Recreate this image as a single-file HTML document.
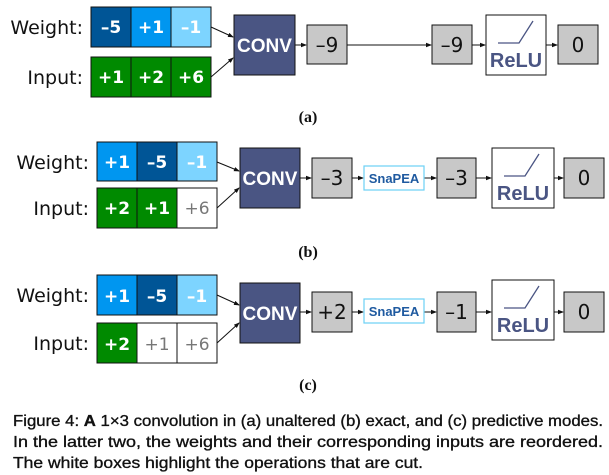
<!DOCTYPE html>
<html><head><meta charset="utf-8"><style>
body{margin:0;background:#fff}
svg{display:block}
.lbl{font-family:"DejaVu Sans","Liberation Sans",sans-serif;font-size:19px;fill:#111}
.cell{font-family:"DejaVu Sans","Liberation Sans",sans-serif;font-weight:bold;font-size:17px;fill:#fff}
.cut{font-family:"DejaVu Sans","Liberation Sans",sans-serif;font-size:17px;fill:#777}
.gv{font-family:"DejaVu Sans","Liberation Sans",sans-serif;font-size:20px;fill:#111}
.conv{font-family:"Liberation Sans",sans-serif;font-weight:bold;font-size:19px;fill:#fff}
.relu{font-family:"Liberation Sans",sans-serif;font-weight:bold;font-size:20px;fill:#4a5583}
.snap{font-family:"Liberation Sans",sans-serif;font-weight:bold;font-size:13px;fill:#1f5aa0}
.sub{font-family:"Liberation Serif",serif;font-weight:bold;font-size:16px;fill:#111}
.cap{font-family:"Liberation Sans",sans-serif;font-size:16px;fill:#111;stroke:#111;stroke-width:0.35}
</style></head><body>
<svg width="609" height="475" viewBox="0 0 609 475">
<defs><marker id="ah" markerWidth="6" markerHeight="6" refX="5" refY="3" orient="auto"><path d="M0,0.8 L6,3 L0,5.2z" fill="#111"/></marker></defs>
<g stroke="#111" stroke-width="1" fill="none" marker-end="url(#ah)">
<line x1="211" y1="27" x2="233" y2="37"/><line x1="211" y1="77" x2="233" y2="58"/>
<line x1="295" y1="45" x2="306" y2="45"/><line x1="347" y1="45" x2="431" y2="45"/>
<line x1="472" y1="45" x2="485" y2="45"/><line x1="546" y1="45" x2="557" y2="45"/>
<line x1="217" y1="162" x2="239" y2="171"/><line x1="217" y1="208" x2="239" y2="188"/>
<line x1="300" y1="178" x2="311" y2="178"/><line x1="352" y1="178" x2="363" y2="178"/>
<line x1="424" y1="178" x2="436" y2="178"/><line x1="476" y1="178" x2="491" y2="178"/>
<line x1="554" y1="178" x2="563" y2="178"/>
<line x1="217" y1="295" x2="239" y2="305"/><line x1="217" y1="343" x2="239" y2="323"/>
<line x1="300" y1="312" x2="311" y2="312"/><line x1="352" y1="312" x2="363" y2="312"/>
<line x1="424" y1="312" x2="436" y2="312"/><line x1="476" y1="312" x2="491" y2="312"/>
<line x1="554" y1="312" x2="563" y2="312"/>
</g>

<g>
<text class="lbl" x="83" y="34" text-anchor="end">Weight:</text>
<text class="lbl" x="83" y="84" text-anchor="end">Input:</text>
<g stroke="#111" stroke-width="1">
<rect x="91" y="7" width="40" height="40" fill="#005596"/><rect x="131" y="7" width="40" height="40" fill="#0096f0"/><rect x="171" y="7" width="40" height="40" fill="#7dd4ff"/>
<rect x="91" y="57" width="40" height="40" fill="#008a00"/><rect x="131" y="57" width="40" height="40" fill="#008a00"/><rect x="171" y="57" width="40" height="40" fill="#008a00"/>
<rect x="234" y="15" width="61" height="60" fill="#4a5583"/>
<rect x="307" y="25" width="40" height="39" fill="#c8c8c8"/><rect x="432" y="25" width="40" height="39" fill="#c8c8c8"/>
<rect x="486" y="15" width="60" height="60" fill="#fff"/><rect x="558" y="25" width="40" height="39" fill="#c8c8c8"/>
</g>
<g text-anchor="middle">
<text class="cell" x="111" y="33">–5</text><text class="cell" x="151" y="33">+1</text><text class="cell" x="191" y="33" fill="#eef8ff">–1</text>
<text class="cell" x="111" y="83">+1</text><text class="cell" x="151" y="83">+2</text><text class="cell" x="191" y="83">+6</text>
<text class="conv" x="264.5" y="52">CONV</text>
<text class="gv" x="327" y="52">–9</text><text class="gv" x="452" y="52">–9</text>
<text class="relu" x="516" y="67">ReLU</text>
<text class="gv" x="578" y="52">0</text>
<text class="sub" x="308" y="122">(a)</text>
</g>
<polyline points="498,43 519,43 533,21" fill="none" stroke="#4a5583" stroke-width="1.3"/>
</g>

<g>
<text class="lbl" x="89" y="169" text-anchor="end">Weight:</text>
<text class="lbl" x="89" y="215" text-anchor="end">Input:</text>
<g stroke="#111" stroke-width="1">
<rect x="97" y="142" width="40" height="39" fill="#0096f0"/><rect x="137" y="142" width="40" height="39" fill="#005596"/><rect x="177" y="142" width="40" height="39" fill="#7dd4ff"/>
<rect x="97" y="188" width="40" height="40" fill="#008a00"/><rect x="137" y="188" width="40" height="40" fill="#008a00"/><rect x="177" y="188" width="40" height="40" fill="#fff"/>
<rect x="240" y="148" width="60" height="60" fill="#4a5583"/>
<rect x="312" y="158" width="40" height="40" fill="#c8c8c8"/><rect x="437" y="158" width="39" height="40" fill="#c8c8c8"/>
<rect x="492" y="148" width="62" height="60" fill="#fff"/><rect x="564" y="158" width="40" height="40" fill="#c8c8c8"/>
</g>
<rect x="364" y="166" width="60" height="24" fill="#fff" stroke="#6cd0f5" stroke-width="1.2"/>
<g text-anchor="middle">
<text class="cell" x="117" y="168">+1</text><text class="cell" x="157" y="168">–5</text><text class="cell" x="197" y="168" fill="#eef8ff">–1</text>
<text class="cell" x="117" y="214">+2</text><text class="cell" x="157" y="214">+1</text><text class="cut" x="197" y="214">+6</text>
<text class="conv" x="270" y="185">CONV</text>
<text class="gv" x="332" y="185">–3</text><text class="snap" x="394" y="183">SnaPEA</text><text class="gv" x="456.5" y="185">–3</text>
<text class="relu" x="523" y="200">ReLU</text>
<text class="gv" x="584" y="185">0</text>
<text class="sub" x="308" y="257">(b)</text>
</g>
<polyline points="504,176 525,176 539,154" fill="none" stroke="#4a5583" stroke-width="1.3"/>
</g>

<g>
<text class="lbl" x="89" y="302" text-anchor="end">Weight:</text>
<text class="lbl" x="89" y="350" text-anchor="end">Input:</text>
<g stroke="#111" stroke-width="1">
<rect x="97" y="275" width="40" height="40" fill="#0096f0"/><rect x="137" y="275" width="40" height="40" fill="#005596"/><rect x="177" y="275" width="40" height="40" fill="#7dd4ff"/>
<rect x="97" y="323" width="40" height="40" fill="#008a00"/><rect x="137" y="323" width="40" height="40" fill="#fff"/><rect x="177" y="323" width="40" height="40" fill="#fff"/>
<rect x="240" y="283" width="60" height="60" fill="#4a5583"/>
<rect x="312" y="292" width="40" height="40" fill="#c8c8c8"/><rect x="437" y="292" width="39" height="40" fill="#c8c8c8"/>
<rect x="492" y="280" width="62" height="60" fill="#fff"/><rect x="564" y="292" width="40" height="40" fill="#c8c8c8"/>
</g>
<rect x="364" y="299" width="60" height="24" fill="#fff" stroke="#6cd0f5" stroke-width="1.2"/>
<g text-anchor="middle">
<text class="cell" x="117" y="302">+1</text><text class="cell" x="157" y="302">–5</text><text class="cell" x="197" y="302" fill="#eef8ff">–1</text>
<text class="cell" x="117" y="350">+2</text><text class="cut" x="157" y="350">+1</text><text class="cut" x="197" y="350">+6</text>
<text class="conv" x="270" y="320">CONV</text>
<text class="gv" x="332" y="319">+2</text><text class="snap" x="394" y="316">SnaPEA</text><text class="gv" x="456.5" y="319">–1</text>
<text class="relu" x="523" y="332">ReLU</text>
<text class="gv" x="584" y="319">0</text>
<text class="sub" x="308" y="390">(c)</text>
</g>
<polyline points="504,308 525,308 539,286" fill="none" stroke="#4a5583" stroke-width="1.3"/>
</g>

<g>
<text class="cap" x="13" y="426" textLength="590" lengthAdjust="spacingAndGlyphs">Figure 4: <tspan font-weight="bold">A</tspan> 1×3 convolution in (a) unaltered (b) exact, and (c) predictive modes.</text>
<text class="cap" x="13" y="447" textLength="590" lengthAdjust="spacingAndGlyphs">In the latter two, the weights and their corresponding inputs are reordered.</text>
<text class="cap" x="13" y="468" textLength="410" lengthAdjust="spacingAndGlyphs">The white boxes highlight the operations that are cut.</text>
</g>
</svg>
</body></html>
